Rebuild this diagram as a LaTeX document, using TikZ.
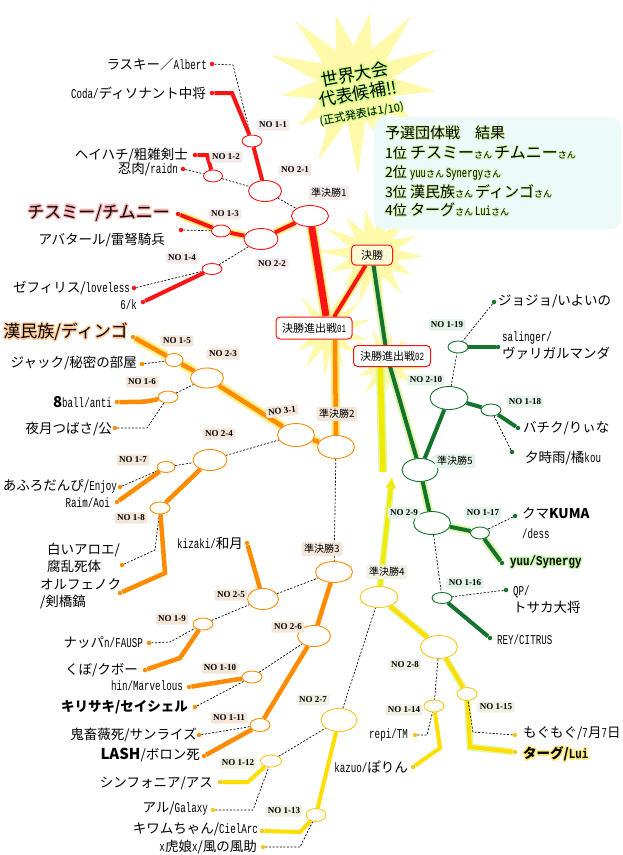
\documentclass[tikz,border=0pt]{standalone}
\usepackage{fontspec}
\setmainfont{Noto Sans CJK JP}
\newfontfamily\monof{Liberation Mono}
\newfontfamily\serf{Liberation Serif}
\usepackage{graphicx}
\usetikzlibrary{shapes.geometric,arrows.meta}
\pgfdeclarelayer{stars}
\pgfdeclarelayer{lines}
\pgfsetlayers{stars,lines,main}

\definecolor{cr}{RGB}{250,20,20}
\definecolor{co}{RGB}{255,140,0}
\definecolor{cy}{RGB}{255,222,0}
\definecolor{cyd}{RGB}{245,200,30}
\definecolor{cyl}{RGB}{240,235,0}
\definecolor{cg}{RGB}{20,115,45}
\definecolor{glowc}{RGB}{255,238,130}
\definecolor{glowyl}{RGB}{225,248,160}
\definecolor{glowgr}{RGB}{225,245,170}
\definecolor{starc}{RGB}{255,250,170}
\definecolor{lr}{RGB}{244,234,234}
\definecolor{lo}{RGB}{244,230,216}
\definecolor{ly}{RGB}{240,240,228}
\definecolor{lg}{RGB}{228,243,232}
\definecolor{resbg}{RGB}{236,250,249}
\definecolor{pinkg}{RGB}{255,175,175}
\definecolor{orgg}{RGB}{255,200,150}
\definecolor{yg}{RGB}{255,232,110}
\definecolor{gg}{RGB}{190,245,160}
\definecolor{rg}{RGB}{215,245,175}
\definecolor{sg}{RGB}{205,255,130}
\definecolor{arrh}{RGB}{215,240,60}
\definecolor{finbg}{RGB}{255,252,215}

\newcommand{\lt}[1]{\scalebox{0.68}[1]{\monof #1}}
\newcommand{\ltb}[1]{\scalebox{0.8}[1]{\monof\bfseries #1}}
\newcommand{\sz}[1]{\fontsize{#1}{#1}\selectfont}
\newcommand{\gX}[4]{\rlap{\hspace*{#2}\raisebox{#3}{\textcolor{#1}{#4}}}}
\newcommand{\glow}[2]{{\gX{#1}{1.4pt}{0pt}{#2}\gX{#1}{-1.4pt}{0pt}{#2}\gX{#1}{0pt}{1.4pt}{#2}\gX{#1}{0pt}{-1.4pt}{#2}\gX{#1}{1pt}{1pt}{#2}\gX{#1}{-1pt}{1pt}{#2}\gX{#1}{1pt}{-1pt}{#2}\gX{#1}{-1pt}{-1pt}{#2}#2}}
\newcommand{\glows}[2]{{\gX{#1}{0.9pt}{0pt}{#2}\gX{#1}{-0.9pt}{0pt}{#2}\gX{#1}{0pt}{0.9pt}{#2}\gX{#1}{0pt}{-0.9pt}{#2}\gX{#1}{0.65pt}{0.65pt}{#2}\gX{#1}{-0.65pt}{0.65pt}{#2}\gX{#1}{0.65pt}{-0.65pt}{#2}\gX{#1}{-0.65pt}{-0.65pt}{#2}#2}}

\newcommand{\E}[6]{\node[ell=#6, minimum width=#4pt, minimum height=#5pt] (#1) at (#2,#3) {};}
\newcommand{\D}[4]{\node[dt=#4] (#1) at (#2,#3) {};}
\newcommand{\burst}[6]{\fill[starc, shift={(#1,#2)}] plot[variable=\k, samples at={0,...,#5}] ({\k*360/(#5+1)+#6}:{mod(\k,2)==0 ? #3*(1+0.14*sin(\k*137+#6)) : #4}) -- cycle;}

\begin{document}
\begin{tikzpicture}[x=1pt,y=-1pt,
  nm/.style={inner sep=0pt, font=\fontsize{13.5}{17}\selectfont},
  dt/.style={circle, inner sep=0pt, minimum size=4.5pt, fill=#1},
  ell/.style={ellipse, draw=#1, fill=white, line width=0.9pt, inner sep=0pt},
  lbl/.style={rounded corners=2.5pt, fill=#1, inner sep=2.6pt, font=\serf\bfseries\sz{9}},
  jlbl/.style={rounded corners=2.5pt, fill=#1, inner sep=2.6pt, font=\sz{10}},
  fin/.style={draw=cr, line width=1pt, rounded corners=4pt, fill=white, inner sep=2pt, font=\sz{11}},
  dl/.style={draw=black, line width=0.7pt, dash pattern=on 2pt off 1.6pt},
  thr/.style={draw=cr, line width=4pt},
  tho/.style={draw=co, line width=4.5pt},
  thy/.style={draw=cy, line width=4pt},
  thg/.style={draw=cg, line width=4pt},
  gl/.style={preaction={draw=glowc, line width=#1}},
  gly/.style={preaction={draw=glowyl, line width=#1}},
  glg/.style={preaction={draw=glowgr, line width=#1}}]
\useasboundingbox (0,0) rectangle (622,855);
\begin{pgfonlayer}{stars}
\fill[white] (0,0) rectangle (622,855);
\burst{355}{84}{80}{38}{25}{5}
\burst{373}{254}{50}{24}{27}{3}
\burst{328}{332}{40}{18}{25}{11}
\burst{387}{364}{35}{16}{23}{7}
\end{pgfonlayer}

% results box
\node[fill=resbg, rounded corners=10pt, minimum width=247pt, minimum height=112pt, anchor=north west, inner sep=0pt] (res) at (374,117) {};
\node[inner sep=0pt, anchor=west] (r0) at (385,133) {\glows{rg}{\sz{15}予選団体戦　結果}};
\node[inner sep=0pt, anchor=west] (r1) at (385,153) {\glows{rg}{\sz{14}1位 \sz{16}チスミー\sz{9}さん \sz{16}チムニー\sz{9}さん}};
\node[inner sep=0pt, anchor=west] (r2) at (385,173) {\glows{rg}{\sz{14}2位 \sz{13}\lt{yuu}\sz{9}さん \sz{13}\lt{Synergy}\sz{9}さん}};
\node[inner sep=0pt, anchor=west] (r3) at (385,192) {\glows{rg}{\sz{14}3位 \sz{15}漢民族\sz{9}さん \sz{15}ディンゴ\sz{9}さん}};
\node[inner sep=0pt, anchor=west] (r4) at (385,210) {\glows{rg}{\sz{14}4位 \sz{15}ターグ\sz{9}さん \sz{13}\lt{Lui}\sz{9}さん}};

% star text
\node[rotate=10, align=center, inner sep=0pt, font=\fontsize{17}{18}\selectfont] (wt) at (358,93) {\glow{sg}{世界大会}\\\glow{sg}{代表候補!!}\\\glows{sg}{\sz{11}(正式発表は1/10)}};

% ellipses
\E{r11}{252}{141}{20}{12}{cr}
\E{r12}{213}{176}{19}{12}{cr}
\E{r21}{265}{191}{33}{21}{cr}
\E{s1}{310}{216}{37}{21}{cr}
\E{r13}{221}{231}{19}{12}{cr}
\E{r22}{261}{239}{34}{21}{cr}
\E{r14}{212}{269}{20}{11}{cr}
\E{o15}{174}{360}{18}{13}{co}
\E{o23}{207}{378}{33}{20}{co}
\E{o16}{168}{397}{20}{12}{co}
\E{o31}{296}{435}{37}{23}{co}
\E{s2}{336}{447}{37}{23}{co}
\E{o24}{210}{460}{34}{21}{co}
\E{o17}{166}{467}{18}{11}{co}
\E{o18}{160}{508}{20}{12}{co}
\E{o25}{263}{599}{31}{21}{co}
\E{s3}{334}{572}{37}{21}{co}
\E{o26}{314}{636}{33}{21}{co}
\E{o19}{203}{624}{20}{12}{co}
\E{o110}{252}{677}{20}{12}{co}
\E{o111}{260}{725}{20}{13}{co}
\E{y27}{339}{720}{36}{23}{cyd}
\E{y112}{271}{761}{21}{12}{cyd}
\E{y113}{316}{815}{20}{13}{cyd}
\E{s4}{379}{597}{38}{21}{cyd}
\E{y28}{439}{647}{37}{23}{cyd}
\E{y115}{467}{694}{20}{13}{cyd}
\E{y114}{434}{706}{20}{12}{cyd}
\E{s5}{420}{470}{36}{23}{cg}
\E{g29}{432}{523}{37}{23}{cg}
\E{g117}{480}{533}{19}{12}{cg}
\E{g116}{442}{598}{20}{11}{cg}
\E{g210}{449}{398}{38}{23}{cg}
\E{g118}{491}{410}{20}{12}{cg}
\E{g119}{458}{347}{20}{12}{cg}

% dots
\D{d1}{212}{64}{cr} \D{d2}{212}{93}{cr} \D{d3}{195}{155}{cr} \D{d4}{183}{169}{cr}
\D{d5}{178}{214}{cr} \D{d6}{181}{230}{cr} \D{d7}{134}{288}{cr} \D{d8}{143}{302}{cr}
\D{d9}{133}{337}{co} \D{d10}{142}{364}{co} \D{d11}{117}{402}{co} \D{d12}{115}{428}{co}
\D{d13}{120}{487}{co} \D{d14}{117}{502}{co} \D{d15}{122}{565}{co} \D{d16}{120}{593}{co}
\D{d17}{247}{543}{co} \D{d18}{149}{643}{co} \D{d19}{145}{670}{co} \D{d20}{189}{687}{co}
\D{d21}{195}{707}{co} \D{d22}{199}{735}{co} \D{d23}{204}{756}{co}
\D{d24}{220}{782}{cyd} \D{d25}{213}{810}{cyd} \D{d26}{262}{831}{cyd} \D{d27}{263}{847}{cyd}
\D{d28}{415}{735}{cyd} \D{d29}{413}{767}{cyd} \D{d30}{515}{735}{cyd} \D{d31}{515}{752}{cyd}
\D{d32}{494}{302}{cg} \D{d33}{498}{347}{cg} \D{d34}{518}{428}{cg} \D{d35}{512}{452}{cg}
\D{d36}{515}{516}{cg} \D{d37}{502}{563}{cg} \D{d38}{506}{590}{cg} \D{d39}{490}{638}{cg}

% final boxes
\node[fin, fill=finbg, minimum width=41pt, minimum height=20pt] (F) at (372,255) {決勝};
\node[fin, minimum width=76pt, minimum height=22pt] (Q1) at (314,328) {決勝進出戦\lt{01}};
\node[fin, minimum width=77pt, minimum height=21pt] (Q2) at (392,356) {決勝進出戦\lt{02}};
\coordinate (q1a) at (326,316);
\coordinate (q1b) at (335,340);
\coordinate (q1c) at (334,317);
\coordinate (q2g) at (387,356);
\coordinate (q2y) at (380,356);
\coordinate (qend) at (383,472);
\coordinate (atip) at (392,477);

% labels
\node[lbl=lr] (L11) at (273,125) {NO 1-1};
\node[lbl=lr] (L12) at (226,157) {NO 1-2};
\node[lbl=lr] (L21) at (295,170) {NO 2-1};
\node[jlbl=lr] (S1L) at (329,193) {準決勝1};
\node[lbl=lr] (L13) at (225,214) {NO 1-3};
\node[lbl=lr] (L14) at (182,258) {NO 1-4};
\node[lbl=lr] (L22) at (272,264) {NO 2-2};
\node[lbl=lo] (L15) at (177,341) {NO 1-5};
\node[lbl=lo] (L23) at (223,354) {NO 2-3};
\node[lbl=lo] (L16) at (142,382) {NO 1-6};
\node[lbl=lo, rotate=6] (L31) at (282,411) {NO 3-1};
\node[jlbl=lo] (S2L) at (337,414) {準決勝2};
\node[lbl=lo] (L24) at (219,434) {NO 2-4};
\node[lbl=lo] (L17) at (133,460) {NO 1-7};
\node[lbl=lo] (L18) at (131,518) {NO 1-8};
\node[jlbl=lo] (S3L) at (322,549) {準決勝3};
\node[lbl=lo] (L25) at (231,595) {NO 2-5};
\node[lbl=lo] (L26) at (288,627) {NO 2-6};
\node[lbl=lo] (L19) at (172,619) {NO 1-9};
\node[lbl=lo] (L110) at (220,668) {NO 1-10};
\node[lbl=lo] (L111) at (229,718) {NO 1-11};
\node[lbl=ly] (L27) at (313,700) {NO 2-7};
\node[lbl=ly] (L112) at (238,763) {NO 1-12};
\node[lbl=ly] (L113) at (284,811) {NO 1-13};
\node[jlbl=ly] (S4L) at (387,572) {準決勝4};
\node[lbl=ly] (L28) at (405,665) {NO 2-8};
\node[lbl=ly] (L115) at (496,707) {NO 1-15};
\node[lbl=ly] (L114) at (404,710) {NO 1-14};
\node[jlbl=lg] (S5L) at (455,461) {準決勝5};
\node[lbl=lg] (L29) at (404,513) {NO 2-9};
\node[lbl=lg] (L117) at (483,513) {NO 1-17};
\node[lbl=lg] (L116) at (465,583) {NO 1-16};
\node[lbl=lg] (L210) at (426,380) {NO 2-10};
\node[lbl=lg] (L118) at (525,402) {NO 1-18};
\node[lbl=lg] (L119) at (447,325) {NO 1-19};

% names
\node[nm, anchor=east] (t1) at (207,64) {ラスキー／\lt{Albert}};
\node[nm, anchor=east] (t2) at (206,93) {\lt{Coda/}ディソナント中将};
\node[nm, anchor=east] (t3) at (188,155) {ヘイハチ/粗雑剣士};
\node[nm, anchor=east] (t4) at (178,169) {忍肉/\lt{raidn}};
\node[nm, anchor=east] (t5) at (170,213) {\glow{pinkg}{\sz{17}チスミー/チムニー}};
\node[nm, anchor=east] (t6) at (165,240) {アバタール/雷弩騎兵};
\node[nm, anchor=east] (t7) at (130,288) {ゼフィリス/\lt{loveless}};
\node[nm, anchor=east] (t8) at (137,305) {\lt{6/k}};
\node[nm, anchor=east] (t9) at (128,332) {\glow{orgg}{\sz{17}漢民族/ディンゴ}};
\node[nm, anchor=east] (t10) at (137,363) {ジャック/秘密の部屋};
\node[nm, anchor=east] (t11) at (112,402) {{\sz{15}\bfseries 8}\lt{ball/anti}};
\node[nm, anchor=east] (t12) at (112,429) {夜月つばさ/公};
\node[nm, anchor=east] (t13) at (117,486) {あふろだんぴ/\lt{Enjoy}};
\node[nm, anchor=east] (t14) at (110,503) {\lt{Raim/Aoi}};
\node[nm, anchor=west, align=left] (t15) at (47,558) {白いアロエ/\\腐乱死体};
\node[nm, anchor=west, align=left] (t16) at (40,594) {オルフェノク\\/剣橋鎬};
\node[nm, anchor=east] (t17) at (243,543) {\lt{kizaki/}和月};
\node[nm, anchor=east] (t18) at (143,643) {ナッパ\lt{n/FAUSP}};
\node[nm, anchor=east] (t19) at (138,670) {くぼ/クボー};
\node[nm, anchor=east] (t20) at (183,686) {\lt{hin/Marvelous}};
\node[nm, anchor=east] (t21) at (188,707) {\bfseries キリサキ/セイシェル};
\node[nm, anchor=east] (t22) at (197,735) {鬼畜薇死/サンライズ};
\node[nm, anchor=east] (t23) at (200,755) {{\sz{15}\bfseries LASH}/ボロン死};
\node[nm, anchor=east] (t24) at (213,783) {シンフォニア/アス};
\node[nm, anchor=east] (t25) at (208,809) {アル/\lt{Galaxy}};
\node[nm, anchor=east] (t26) at (258,829) {キワムちゃん/\lt{CielArc}};
\node[nm, anchor=east] (t27) at (257,847) {\lt{x}虎娘\lt{x}/風の風助};
\node[nm, anchor=east] (t28) at (408,735) {\lt{repi/TM}};
\node[nm, anchor=east] (t29) at (408,767) {\lt{kazuo/}ぽりん};
\node[nm, anchor=west] (t30) at (523,733) {もぐもぐ/\lt{7}月\lt{7}日};
\node[nm, anchor=west] (t31) at (523,754) {\glow{yg}{\bfseries ターグ/\ltb{Lui}}};
\node[nm, anchor=west] (t32) at (498,301) {ジョジョ/いよいの};
\node[nm, anchor=west, align=left] (t33) at (502,346) {\lt{salinger/}\\ヴァリガルマンダ};
\node[nm, anchor=west] (t34) at (523,428) {バチク/りぃな};
\node[nm, anchor=west] (t35) at (525,458) {夕時雨/橘\lt{kou}};
\node[nm, anchor=west, align=left, font=\fontsize{13.5}{20}\selectfont] (t36) at (522,523) {クマ{\bfseries KUMA}\\\lt{/dess}};
\node[nm, anchor=west] (t37) at (510,562) {\glow{gg}{\ltb{yuu/Synergy}}};
\node[nm, anchor=west, align=left] (t38) at (513,600) {\lt{QP/}\\トサカ大将};
\node[nm, anchor=west] (t39) at (497,640) {\lt{REY/CITRUS}};

\begin{pgfonlayer}{lines}
% red
\draw[dl] (d1) -- (233,65) -- (r11);
\draw[thr] (d2) -- (232,93) -- (r11);
\draw[thr] (r11) -- (r21);
\draw[thr] (d3) -- (207,155) -- (r12);
\draw[dl] (d4) -- (r12);
\draw[dl] (r12) -- (r21);
\draw[dl] (r21) -- (s1);
\draw[thr, gl=8pt] (d5) -- (r13) -- (r22) -- (s1);
\draw[dl] (d6) -- (r13);
\draw[dl] (d7) -- (r14) -- (r22);
\draw[thr] (d8) -- (r14);
\draw[thr, line width=7pt, gl=11pt] (s1) -- (q1a);
\draw[thr, gl=8pt] (q1c) -- (F);
% orange
\draw[tho, gl=9pt] (d9) -- (o15) -- (o23) -- (o31) -- (s2);
\draw[dl] (d10) -- (o15);
\draw[tho] (d11) .. controls (145,402) .. (o16);
\draw[dl] (o16) -- (o23);
\draw[dl] (d12) -- (147,428) -- (o16);
\draw[dl] (o24) -- (o31);
\draw[dl] (d13) -- (o17) -- (o24);
\draw[tho] (d14) -- (o17);
\draw[tho] (o18) -- (o24);
\draw[dl] (d15) -- (155,550) -- (o18);
\draw[tho] (d16) -- (165,573) -- (o18);
\draw[tho, gl=9pt] (s2) -- (q1b);
\draw[dl] (s2) -- (s3);
\draw[dl] (o25) -- (s3);
\draw[tho] (d17) -- (o25);
\draw[dl] (o19) -- (o25);
\draw[dl] (d18) -- (170,642) -- (o19);
\draw[tho] (d19) -- (180,658) -- (o19);
\draw[tho] (s3) -- (o26);
\draw[dl] (o110) -- (o26);
\draw[tho] (d20) -- (o110);
\draw[dl] (d21) -- (o110);
\draw[tho] (o26) -- (o111);
\draw[dl] (d22) -- (o111);
\draw[tho] (d23) -- (o111);
% yellow
\draw[dl] (y27) -- (s4);
\draw[thy] (y27) -- (y113);
\draw[dl] (y112) -- (y27);
\draw[thy] (d24) -- (248,782) -- (y112);
\draw[dl] (d25) -- (253,810) -- (y112);
\draw[thy] (d26) -- (300,832) -- (y113);
\draw[dl] (d27) -- (300,847) -- (y113);
\draw[thy, gly=7pt] (s4) -- (y28) -- (y115) -- (470,747) -- (d31);
\draw[dl] (d30) -- (473,732) -- (y115);
\draw[dl] (y28) -- (y114);
\draw[dl] (d28) -- (427,735) -- (y114);
\draw[thy] (d29) -- (440,748) -- (y114);
\draw[draw=cyl, line width=4pt, gly=7pt, -{Latex[length=11pt,width=11pt,fill=arrh]}] (s4) -- (atip);
\draw[draw=cyl, line width=5.5pt, gly=9pt] (q2y) -- (qend);
% green
\draw[thg, glg=8pt] (F) -- (q2g) -- (s5);
\draw[thg, glg=8pt] (s5) -- (g29) -- (g117) -- (d37);
\draw[dl] (g29) -- (g116);
\draw[dl] (d38) -- (g116);
\draw[thg] (g116) -- (d39);
\draw[dl] (d36) -- (g117);
\draw[thg] (s5) -- (g210);
\draw[thg] (g210) -- (g118) -- (d34);
\draw[dl] (d35) -- (g118);
\draw[dl] (g210) -- (g119);
\draw[thg] (g119) -- (d33);
\draw[dl] (d32) -- (g119);
\end{pgfonlayer}
\end{tikzpicture}
\end{document}
